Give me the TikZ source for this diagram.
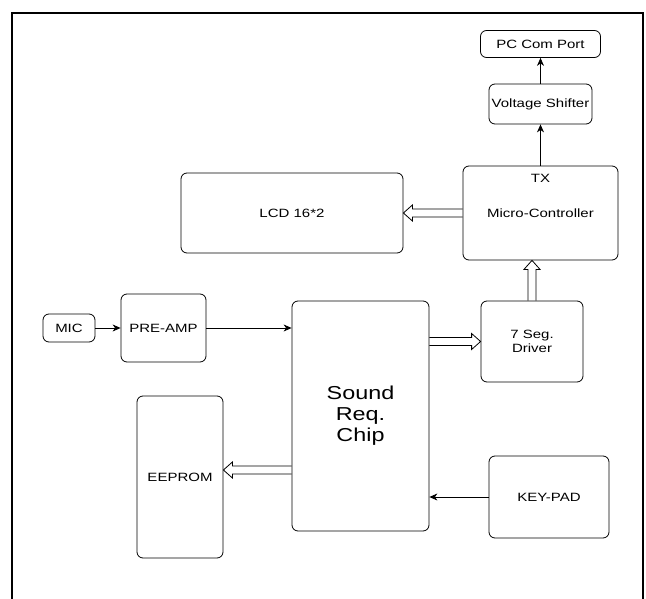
\documentclass[tikz,border=0pt]{standalone}
\usepackage{fontspec}
\setmainfont{Liberation Sans}[FakeStretch=1.25]
\usetikzlibrary{arrows.meta,calc}
\newcommand\harrow[2]{\path[hollow] let \p1=(#1), \p2=(#2), \n1={9*sign(\x2-\x1)} in
  ({\x1},{\y2+4pt}) -- ({\x2-(\n1)*1pt},{\y2+4pt}) -- ({\x2-(\n1)*1pt},{\y2+8pt}) -- ({\x2},{\y2})
  -- ({\x2-(\n1)*1pt},{\y2-8pt}) -- ({\x2-(\n1)*1pt},{\y2-4pt}) -- ({\x1},{\y2-4pt});}
\newcommand\varrow[2]{\path[hollow] let \p1=(#1), \p2=(#2), \n1={9*sign(\y2-\y1)} in
  ({\x2+4pt},{\y1}) -- ({\x2+4pt},{\y2-(\n1)*1pt}) -- ({\x2+8pt},{\y2-(\n1)*1pt}) -- ({\x2},{\y2})
  -- ({\x2-8pt},{\y2-(\n1)*1pt}) -- ({\x2-4pt},{\y2-(\n1)*1pt}) -- ({\x2-4pt},{\y1});}
\begin{document}
\begin{tikzpicture}[x=1pt,y=-1pt,
  box/.style={draw, line width=0.8pt, rounded corners=6pt, align=center, inner sep=0pt,
    font=\fontsize{12}{14}\selectfont},
  conn/.style={line width=0.8pt, -{Stealth[length=8pt,width=7pt,inset=2.5pt]}},
  hollow/.style={draw, line width=0.8pt, line join=miter},
  frame/.style={line width=1.3pt}]
\useasboundingbox (0,0) rectangle (646,599);
\draw[frame] (12,599) -- (12,13) -- (643,13) -- (643,599);

\node[box, minimum width=120pt, minimum height=27pt] (pc) at (540.5,44) {PC Com Port};
\node[box, minimum width=103pt, minimum height=40pt] (vs) at (540.5,104) {Voltage Shifter};
\node[box, minimum width=155pt, minimum height=94pt] (mc) at (540.5,213) {Micro-Controller};
\node[font=\fontsize{12}{14}\selectfont] (tx) at ($(mc.north)+(0,13)$) {TX};
\node[box, minimum width=222pt, minimum height=80pt] (lcd) at (292,213) {LCD 16*2};
\node[box, minimum width=52pt, minimum height=28pt] (mic) at (69,328) {MIC};
\node[box, minimum width=85pt, minimum height=68pt] (pre) at (163.5,328) {PRE-AMP};
\node[box, minimum width=137pt, minimum height=230pt, font=\fontsize{18.7}{21}\selectfont] (sound) at (360.5,416) {Sound\\Req.\\Chip};
\node[box, minimum width=102pt, minimum height=81pt] (seg) at (532,341.5) {7 Seg.\\Driver};
\node[box, minimum width=86pt, minimum height=162pt] (eeprom) at (180,477) {EEPROM};
\node[box, minimum width=120pt, minimum height=82pt] (keypad) at (549,497) {KEY-PAD};

\coordinate (ee) at (0,470);

\draw[conn] (vs) -- (pc);
\draw[conn] (mc) -- (vs);
\draw[conn] (mic) -- (pre);
\draw[conn] (pre.east) -- (sound.west |- pre.east);
\draw[conn] (keypad.west) -- (sound.east |- keypad.west);

\harrow{mc.west}{lcd.east}
\harrow{sound.east |- seg.west}{seg.west}
\harrow{sound.west |- ee}{eeprom.east |- ee}
\varrow{seg.north}{mc.south -| seg.north}
\end{tikzpicture}
\end{document}
